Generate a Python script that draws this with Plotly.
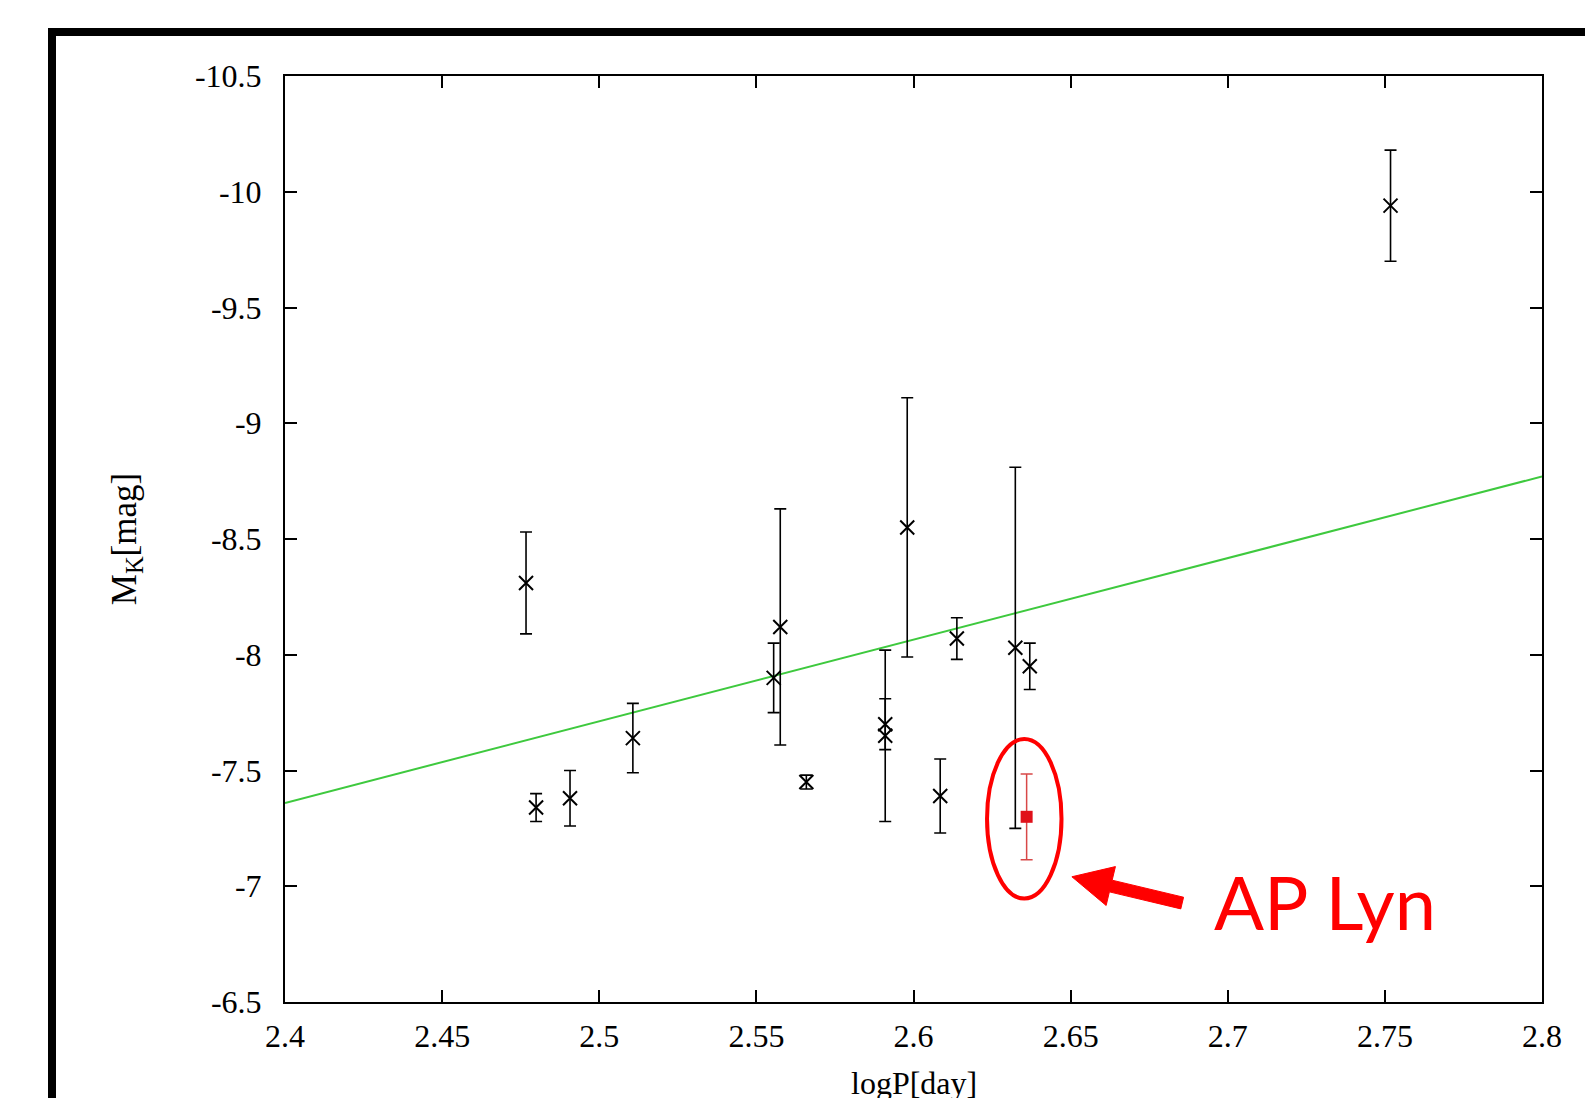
import math
import plotly.graph_objects as go

# ---- data ----
logP = [2.4767, 2.4799, 2.4907, 2.5107, 2.5555, 2.5576, 2.5659, 2.591, 2.591,
        2.598, 2.6085, 2.6138, 2.6324, 2.637, 2.7518]
MK = [-8.31, -7.34, -7.38, -7.64, -7.90, -8.12, -7.45, -7.70, -7.65,
      -8.55, -7.39, -8.07, -8.03, -7.95, -9.94]
MK_err = [0.22, 0.06, 0.12, 0.15, 0.15, 0.51, 0.03, 0.11, 0.37,
          0.56, 0.16, 0.09, 0.78, 0.10, 0.24]

ap_logP = [2.636]
ap_MK = [-7.30]
ap_err = [0.185]

fit_logP = [2.4, 2.8]
fit_MK = [-7.36, -8.77]

x_ticks = [2.4, 2.45, 2.5, 2.55, 2.6, 2.65, 2.7, 2.75, 2.8]
x_ticktext = ["2.4", "2.45", "2.5", "2.55", "2.6", "2.65", "2.7", "2.75", "2.8"]
y_ticks = [-10.5, -10, -9.5, -9, -8.5, -8, -7.5, -7, -6.5]
y_ticktext = ["-10.5", "-10", "-9.5", "-9", "-8.5", "-8", "-7.5", "-7", "-6.5"]

x_title = "logP[day]"
y_title = "M<sub>K</sub>[mag]"
label_text = "AP Lyn"

# ---- layout geometry ----
W, H = 1585, 1098
ML, MR, MT, MB = 285, 43, 76, 96
PW, PH = W - ML - MR, H - MT - MB
XR = [2.4, 2.8]
YR = [-6.5, -10.5]

fig = go.Figure()

fig.add_trace(go.Scatter(
    x=fit_logP, y=fit_MK, mode="lines",
    line=dict(color="#3ec93e", width=2), showlegend=False, hoverinfo="skip"))

fig.add_trace(go.Scatter(
    x=logP, y=MK, mode="markers",
    marker=dict(symbol="x-thin-open", size=14, color="black",
                line=dict(color="black", width=2)),
    error_y=dict(type="data", array=MK_err, visible=True,
                 color="black", thickness=1.6, width=6),
    showlegend=False))

fig.add_trace(go.Scatter(
    x=ap_logP, y=ap_MK, mode="markers",
    marker=dict(symbol="square", size=12, color="#e0101a"),
    error_y=dict(type="data", array=ap_err, visible=True,
                 color="#d84848", thickness=1.5, width=6),
    showlegend=False))

font_serif = "Liberation Serif, Times New Roman, serif"

fig.update_layout(
    width=W, height=H,
    margin=dict(l=ML, r=MR, t=MT, b=MB),
    paper_bgcolor="white", plot_bgcolor="white",
    font=dict(family=font_serif, color="black", size=32),
    xaxis=dict(
        range=XR, tickvals=x_ticks, ticktext=x_ticktext,
        ticks="inside", ticklen=12, tickwidth=2, tickcolor="black",
        showline=True, linecolor="black", linewidth=2, mirror="ticks",
        showgrid=False, zeroline=False, automargin=False,
        ticklabelstandoff=5,
        tickfont=dict(family=font_serif, size=32, color="black"),
    ),
    yaxis=dict(
        range=YR, tickvals=y_ticks, ticktext=y_ticktext,
        ticks="inside", ticklen=12, tickwidth=2, tickcolor="black",
        showline=True, linecolor="black", linewidth=2, mirror="ticks",
        showgrid=False, zeroline=False, automargin=False,
        ticklabelstandoff=15,
        tickfont=dict(family=font_serif, size=32, color="black"),
        title=dict(text=y_title, font=dict(family=font_serif, size=35), standoff=48),
    ),
)

# x-axis title (sits at the very bottom edge, as in the reference)
fig.add_annotation(x=0.5, y=0, xref="paper", yref="paper", text=x_title,
                   showarrow=False, xanchor="center", yanchor="top", yshift=-61,
                   font=dict(family=font_serif, size=32, color="black"))

# outer thick frame (extends beyond the page right and bottom)
fig.add_shape(type="rect", xref="paper", yref="paper",
              x0=(52 - ML) / PW, y0=-0.2, x1=1.2, y1=(H - MB - 32) / PH,
              line=dict(color="black", width=8), fillcolor="rgba(0,0,0,0)", layer="above")

# red ellipse around AP Lyn
fig.add_shape(type="circle", xref="x", yref="y",
              x0=2.6234, x1=2.6471, y0=-7.636, y1=-6.947,
              line=dict(color="#ff0000", width=4), layer="above")

# red block arrow (pixel offsets converted to data units)
tip_x, tip_y = 2.6504, -7.041
dx_px, dy_px = 110.3, 26.3
L = math.hypot(dx_px, dy_px)
ux, uy = dx_px / L, dy_px / L
nx, ny = -uy, ux
head_len, head_hw, shaft_hw = 40, 20, 6
pts_px = [
    (0, 0),
    (head_len * ux + head_hw * nx, head_len * uy + head_hw * ny),
    (head_len * ux + shaft_hw * nx, head_len * uy + shaft_hw * ny),
    (L * ux + shaft_hw * nx, L * uy + shaft_hw * ny),
    (L * ux - shaft_hw * nx, L * uy - shaft_hw * ny),
    (head_len * ux - shaft_hw * nx, head_len * uy - shaft_hw * ny),
    (head_len * ux - head_hw * nx, head_len * uy - head_hw * ny),
]
sx = (XR[1] - XR[0]) / PW
sy = (YR[0] - YR[1]) / PH  # reversed axis: screen-down = larger value
path = "M " + " L ".join(f"{tip_x + px * sx:.6f},{tip_y + py * sy:.6f}" for px, py in pts_px) + " Z"
fig.add_shape(type="path", xref="x", yref="y", path=path,
              fillcolor="#ff0000", line=dict(color="#ff0000", width=1), layer="above")

# AP Lyn label
fig.add_annotation(x=2.731, y=-6.935, xref="x", yref="y", text=label_text,
                   showarrow=False, xanchor="center", yanchor="middle",
                   font=dict(family="Lato, Open Sans, sans-serif", size=74, color="#ff0000"))

fig.write_html("out.html")
